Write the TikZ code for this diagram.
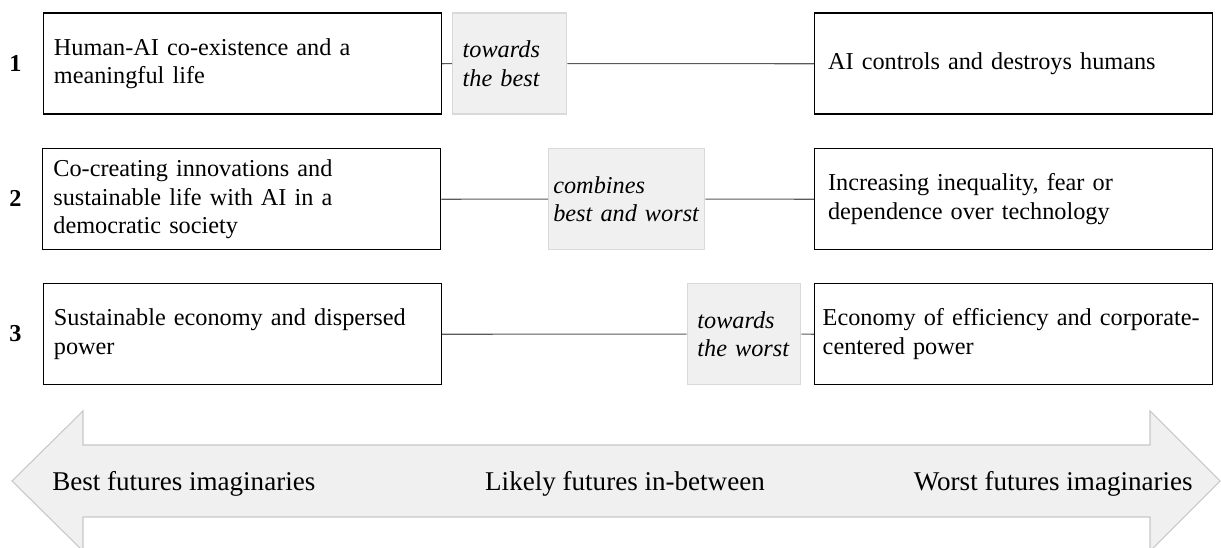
\documentclass[tikz,border=0pt]{standalone}
\usepackage{fontspec}
\setmainfont{Liberation Serif}
\definecolor{trendfill}{HTML}{F0F0F0}
\definecolor{trendedge}{HTML}{D9D9D9}
\definecolor{arrowedge}{HTML}{C8C8C8}
\definecolor{linkgray}{HTML}{595959}
\tikzset{
  future/.style={draw, line width=1.1pt, anchor=north west, minimum height=75.75pt, inner xsep=8pt, text width=#1, align=left, font=\fontsize{18.2}{21.6}\selectfont},
  trend/.style={draw=trendedge, fill=trendfill, line width=1pt, anchor=north west, minimum height=75.75pt, inner xsep=7.5pt, text width=#1, align=left, font=\fontsize{18.2}{21.2}\selectfont\itshape},
  rank/.style={font=\fontsize{18.2}{21.6}\selectfont\bfseries},
  link/.style={draw=linkgray, line width=0.8pt},
  pole/.style={font=\fontsize{20.3}{24}\selectfont, inner sep=0pt}
}
\begin{document}
\begin{tikzpicture}[x=0.75pt,y=-0.75pt]
            \useasboundingbox (0,0) rectangle (1221,548);

            \draw[draw=arrowedge, fill=trendfill, line width=0.8pt] (12,481) -- (83,411) -- (83,445) -- (1150,445) -- (1150,411) -- (1220,481) -- (1150,551) -- (1150,517) -- (83,517) -- (83,551) -- cycle;
            \node[pole, anchor=base west] (best) at (52,491) {Best futures imaginaries};
            \node[pole, anchor=base] (likely) at (625,491) {Likely futures in-between};
            \node[pole, anchor=base east] (worst) at (1193,491) {Worst futures imaginaries};

            \node[future=282.5pt] (b1) at (42.5,12.5) {Human-AI co-existence and a\\meaningful life};
            \node[trend=70.5pt] (t1) at (452,12.5) {towards\\the best};
            \node[future=278.5pt, inner xsep=10pt] (w1) at (814,12.5) {AI controls and destroys humans};

            \node[future=282.5pt] (b2) at (42,148) {Co-creating innovations and\\sustainable life with AI in a\\democratic society};
            \node[trend=110pt, inner xsep=3.5pt] (t2) at (548,148) {combines\\best and worst};
            \node[future=278.5pt, inner xsep=10pt] (w2) at (814,148) {Increasing inequality, fear or\\dependence over technology};

            \node[future=282.5pt] (b3) at (42.5,283) {Sustainable economy and dispersed\\power};
            \node[trend=70pt] (t3) at (686.7,283) {towards\\the worst};
            \node[future=286.5pt, inner xsep=6pt] (w3) at (814,283) {Economy of efficiency and corporate-\\centered power};

            \node[rank] (n1) at (15.5,63) {1};
            \node[rank] (n2) at (15.5,198) {2};
            \node[rank] (n3) at (15.5,334) {3};

            \draw[link] (b1.east) -- (t1.west) (t1.east) -- (w1.west);
            \draw[link] (b2.east) -- (t2.west) (t2.east) -- (w2.west);
            \draw[link] (b3.east) -- (t3.west) (t3.east) -- (w3.west);
        \end{tikzpicture}
\end{document}
